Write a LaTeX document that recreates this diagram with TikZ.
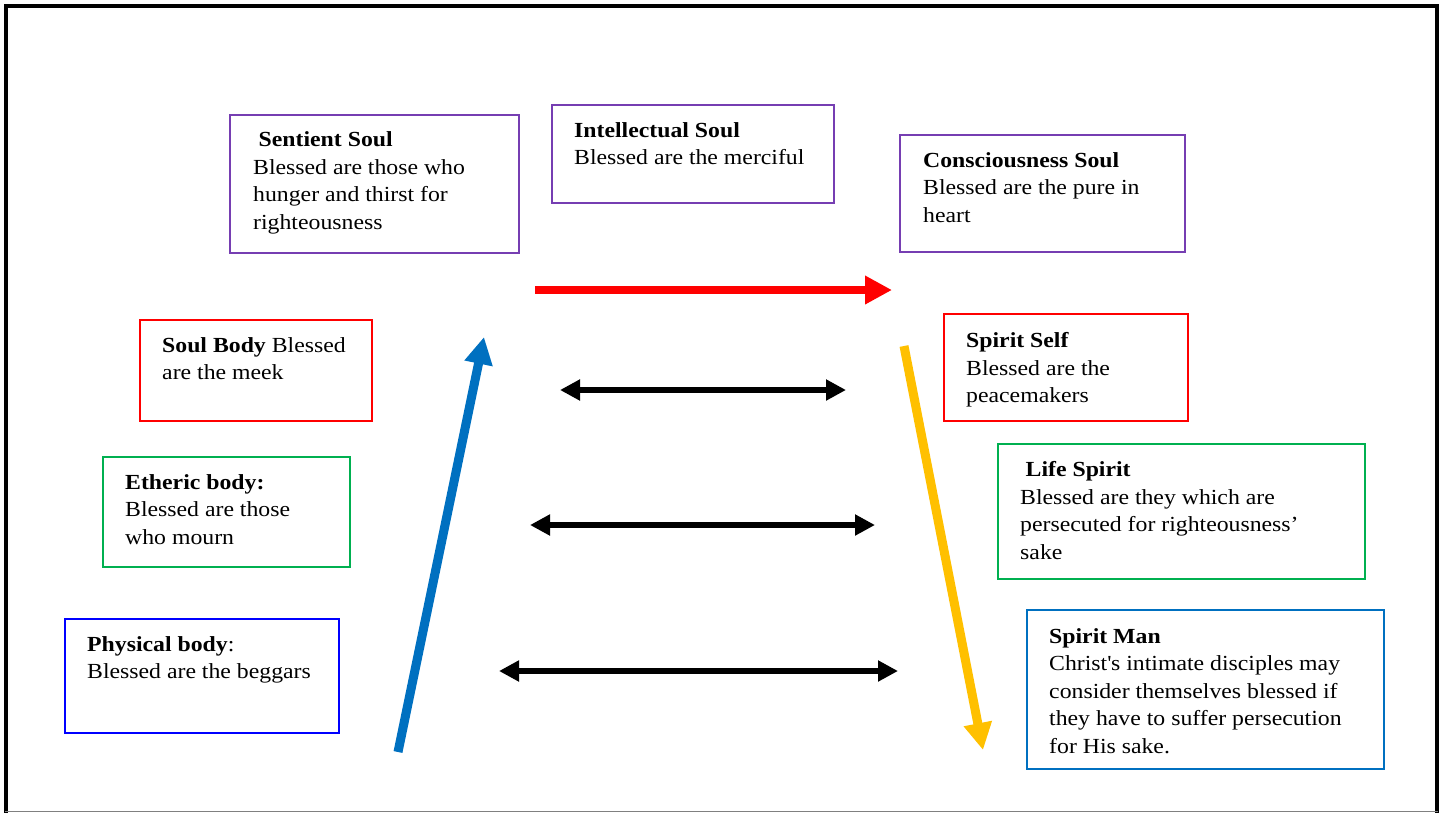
\documentclass[tikz,border=0pt]{standalone}
\usepackage{fontspec}
\setmainfont{Liberation Serif}[FakeStretch=1.105]
\usetikzlibrary{arrows.meta}
\definecolor{purp}{RGB}{118,62,178}
\definecolor{gr}{RGB}{0,176,80}
\definecolor{bl}{RGB}{0,0,255}
\definecolor{lbl}{RGB}{0,112,192}
\definecolor{yel}{RGB}{255,192,0}
\begin{document}
\begin{tikzpicture}[x=1pt,y=-1pt,
  box/.style={draw, line width=2pt, anchor=north west, inner sep=0pt},
  txt/.style={anchor=north west, inner sep=0pt, align=left, font=\fontsize{21.5}{27.5}\selectfont},
  bigtip/.style={-{Triangle[length=27pt,width=27pt]}},
  dbl/.style={black, line width=6pt, {Triangle[length=20pt,width=20pt]}-{Triangle[length=20pt,width=20pt]}}]
\useasboundingbox (0,0) rectangle (1442,812);
% frame
\draw[line width=4pt] (6,820) -- (6,6) -- (1437,6) -- (1437,820);
\draw[gray, line width=1pt] (5,811.5) -- (1438,811.5);
% boxes
\node[box, purp, minimum width=289pt, minimum height=138pt] (sentientBox) at (229,114) {};
\node[txt] (sentient) at (253,131.8) {\hspace*{5.5pt}\textbf{Sentient Soul}\\Blessed are those who\\hunger and thirst for\\righteousness};
\node[box, purp, minimum width=282pt, minimum height=98pt] (intellBox) at (551,104) {};
\node[txt] (intell) at (574,122.3) {\textbf{Intellectual Soul}\\Blessed are the merciful};
\node[box, purp, minimum width=285pt, minimum height=117pt] (consBox) at (899,134) {};
\node[txt] (cons) at (923,152.3) {\textbf{Consciousness Soul}\\Blessed are the pure in\\heart};
\node[box, red, minimum width=232pt, minimum height=101pt] (soulBodyBox) at (139,319) {};
\node[txt] (soulBody) at (162,337.3) {\textbf{Soul Body} Blessed\\are the meek};
\node[box, red, minimum width=244pt, minimum height=107pt] (spiritSelfBox) at (943,313) {};
\node[txt] (spiritSelf) at (966,332.3) {\textbf{Spirit Self}\\Blessed are the\\peacemakers};
\node[box, gr, minimum width=247pt, minimum height=110pt] (ethericBox) at (102,456) {};
\node[txt] (etheric) at (125,474.3) {\textbf{Etheric body:}\\Blessed are those\\who mourn};
\node[box, gr, minimum width=367pt, minimum height=135pt] (lifeBox) at (997,443) {};
\node[txt] (life) at (1020,461.3) {\hspace*{5.5pt}\textbf{Life Spirit}\\Blessed are they which are\\persecuted for righteousness’\\sake};
\node[box, bl, minimum width=274pt, minimum height=114pt] (physBox) at (64,618) {};
\node[txt] (phys) at (87,636.3) {\textbf{Physical body}:\\Blessed are the beggars};
\node[box, lbl, minimum width=357pt, minimum height=159pt] (spiritManBox) at (1026,609) {};
\node[txt] (spiritMan) at (1049,628.3) {\textbf{Spirit Man}\\Christ\textquotesingle s intimate disciples may\\consider themselves blessed if\\they have to suffer persecution\\for His sake.};
% arrows
\coordinate (redS) at (535,290);
\coordinate (redE) at (892,290);
\draw[red, line width=7.5pt, bigtip] (redS) -- (redE);
\coordinate (blueS) at (398,752);
\coordinate (blueE) at (484,337);
\draw[lbl, line width=9pt, bigtip] (blueS) -- (blueE);
\coordinate (yelS) at (904,346);
\coordinate (yelE) at (983,750);
\draw[yel, line width=9pt, bigtip] (yelS) -- (yelE);
\coordinate (b1L) at (560,390);
\coordinate (b1R) at (846,390);
\draw[dbl] (b1L) -- (b1R);
\coordinate (b2L) at (530,525);
\coordinate (b2R) at (875,525);
\draw[dbl] (b2L) -- (b2R);
\coordinate (b3L) at (499,671);
\coordinate (b3R) at (898,671);
\draw[dbl] (b3L) -- (b3R);
\end{tikzpicture}
\end{document}
